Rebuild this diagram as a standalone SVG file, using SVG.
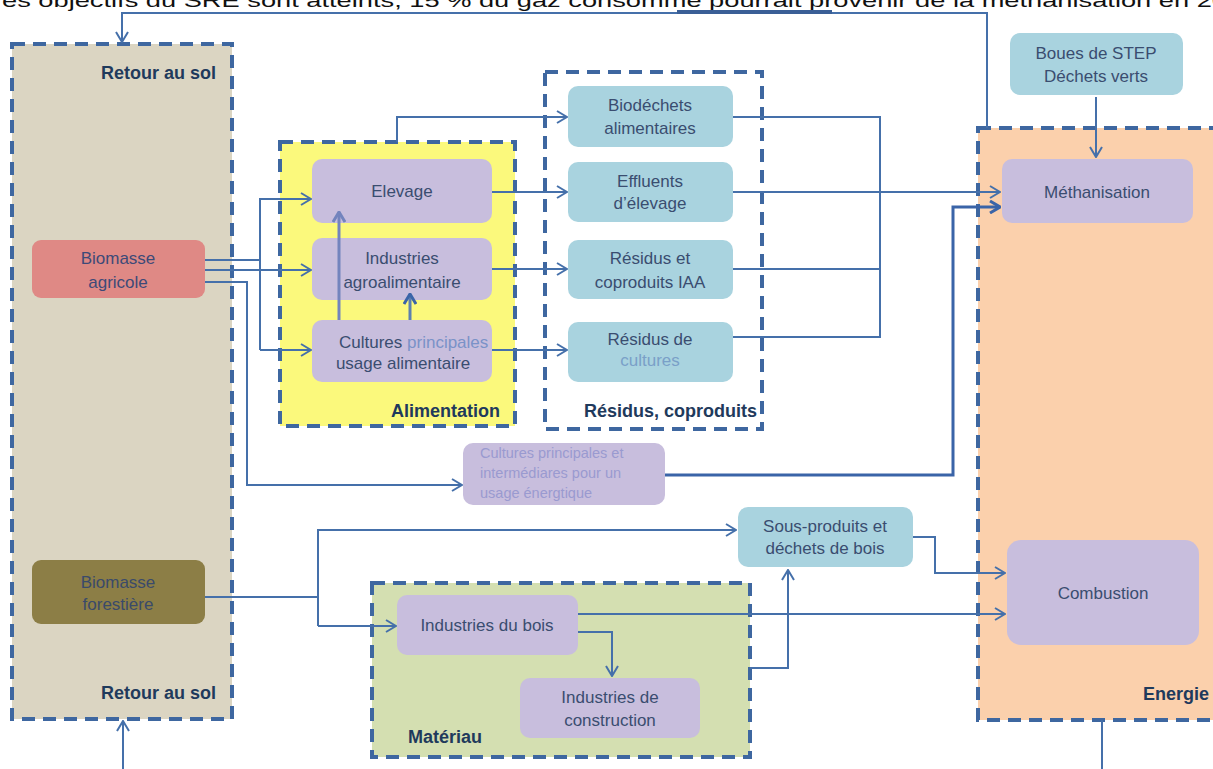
<svg xmlns="http://www.w3.org/2000/svg" width="1213" height="769" viewBox="0 0 1213 769">
<defs>
<marker id="arr" viewBox="0 0 12 14" refX="11" refY="7" markerWidth="12" markerHeight="14" markerUnits="userSpaceOnUse" orient="auto">
<path d="M1,1 L11,7 L1,13" fill="none" stroke="#4570aa" stroke-width="2"/>
</marker>
<marker id="arrT" viewBox="0 0 12 14" refX="11" refY="7" markerWidth="12" markerHeight="14" markerUnits="userSpaceOnUse" orient="auto">
<path d="M1,1 L11,7 L1,13" fill="none" stroke="#3a64a8" stroke-width="3"/>
</marker>
<marker id="arrP" viewBox="0 0 12 14" refX="11" refY="7" markerWidth="12" markerHeight="14" markerUnits="userSpaceOnUse" orient="auto">
<path d="M1,1 L11,7 L1,13" fill="none" stroke="#7384bd" stroke-width="3"/>
</marker>
</defs>
<style>
.cont{stroke:#3e67a0;stroke-width:4;stroke-dasharray:13 8}
.c{fill:none;stroke:#4570aa;stroke-width:2}
.lav{fill:#c8bedd}
.blu{fill:#a9d3df}
.t{font-family:"Liberation Sans",Arial,sans-serif;font-size:17px;fill:#3a4d70;text-anchor:middle}
.lb{font-family:"Liberation Sans",Arial,sans-serif;font-size:18px;font-weight:bold;fill:#1f3a5c}
</style>
<rect width="1213" height="769" fill="#ffffff"/>
<text x="2" y="7" font-family="Liberation Sans, Arial, sans-serif" font-size="19" fill="#111" textLength="1225" lengthAdjust="spacingAndGlyphs">es objectifs du SRE sont atteints, 15 % du gaz consommé pourrait provenir de la méthanisation en 20</text>

<g id="retour-au-sol">
<rect class="cont" x="12" y="44" width="220" height="675" fill="#dbd5c2"/>
<text class="lb" x="216" y="79" text-anchor="end">Retour au sol</text>
<text class="lb" x="216" y="699" text-anchor="end">Retour au sol</text>
</g>
<g id="alimentation">
<rect class="cont" x="280" y="142" width="235" height="284" fill="#fbf97c"/>
<text class="lb" x="500" y="417" text-anchor="end">Alimentation</text>
</g>
<g id="residus-coproduits">
<rect class="cont" x="545" y="72" width="217" height="357" fill="#ffffff"/>
<text class="lb" x="757" y="417" text-anchor="end">Résidus, coproduits</text>
</g>
<g id="energie">
<rect class="cont" x="978" y="128" width="240" height="592" fill="#fbd0ac"/>
<text class="lb" x="1209" y="700" text-anchor="end">Energie</text>
</g>
<g id="materiau">
<rect class="cont" x="372" y="583" width="378" height="174" fill="#d4dfb1"/>
<text class="lb" x="408" y="743">Matériau</text>
</g>

<g id="biomasse-agricole">
<rect x="32" y="240" width="173" height="58" rx="9" fill="#df8985"/>
<text class="t" x="118" y="264" style="fill:#3d4a78">Biomasse</text>
<text class="t" x="118" y="288" style="fill:#3d4a78">agricole</text>
</g>
<g id="biomasse-forestiere">
<rect x="32" y="560" width="173" height="64" rx="9" fill="#8c7e46"/>
<text class="t" x="118" y="588" style="fill:#3a4a6a">Biomasse</text>
<text class="t" x="118" y="610" style="fill:#3a4a6a">forestière</text>
</g>
<g id="elevage">
<rect class="lav" x="312" y="159" width="180" height="64" rx="10"/>
<text class="t" x="402" y="197">Elevage</text>
</g>
<g id="industries-agro">
<rect class="lav" x="312" y="238" width="180" height="62" rx="10"/>
<text class="t" x="402" y="264">Industries</text>
<text class="t" x="402" y="288">agroalimentaire</text>
</g>
<g id="cultures-alimentaires">
<rect class="lav" x="312" y="320" width="180" height="62" rx="10"/>
<text class="t" x="339" y="348" style="text-anchor:start">Cultures <tspan style="fill:#7a92c8">principales</tspan></text>
<text class="t" x="403" y="369">usage alimentaire</text>
</g>
<g id="biodechets">
<rect class="blu" x="568" y="86" width="165" height="61" rx="10"/>
<text class="t" x="650" y="111">Biodéchets</text>
<text class="t" x="650" y="134">alimentaires</text>
</g>
<g id="effluents">
<rect class="blu" x="568" y="162" width="165" height="60" rx="10"/>
<text class="t" x="650" y="187">Effluents</text>
<text class="t" x="650" y="209">d’élevage</text>
</g>
<g id="residus-iaa">
<rect class="blu" x="568" y="240" width="165" height="59" rx="10"/>
<text class="t" x="650" y="264">Résidus et</text>
<text class="t" x="650" y="288">coproduits IAA</text>
</g>
<g id="residus-cultures">
<rect class="blu" x="568" y="322" width="165" height="60" rx="10"/>
<text class="t" x="650" y="345">Résidus de</text>
<text class="t" x="650" y="366" style="fill:#7aa0c8">cultures</text>
</g>
<g id="cultures-energetiques">
<rect class="lav" x="463" y="443" width="202" height="62" rx="10"/>
<g font-family="Liberation Sans, Arial, sans-serif" font-size="14.5" fill="#9a9ad0">
<text x="480" y="458">Cultures principales et</text>
<text x="480" y="478">intermédiares pour un</text>
<text x="480" y="498">usage énergtique</text>
</g>
</g>
<g id="boues-step">
<rect class="blu" x="1010" y="33" width="173" height="62" rx="10"/>
<text class="t" x="1096" y="59">Boues de STEP</text>
<text class="t" x="1096" y="82">Déchets verts</text>
</g>
<g id="methanisation">
<rect class="lav" x="1002" y="159" width="191" height="64" rx="10"/>
<text class="t" x="1097" y="198">Méthanisation</text>
</g>
<g id="sous-produits">
<rect class="blu" x="738" y="507" width="175" height="60" rx="10"/>
<text class="t" x="825" y="532">Sous-produits et</text>
<text class="t" x="825" y="554">déchets de bois</text>
</g>
<g id="combustion">
<rect class="lav" x="1007" y="540" width="192" height="105" rx="14"/>
<text class="t" x="1103" y="599">Combustion</text>
</g>
<g id="industries-bois">
<rect class="lav" x="397" y="595" width="181" height="60" rx="10"/>
<text class="t" x="487" y="631">Industries du bois</text>
</g>
<g id="industries-construction">
<rect class="lav" x="520" y="678" width="180" height="60" rx="10"/>
<text class="t" x="610" y="703">Industries de</text>
<text class="t" x="610" y="726">construction</text>
</g>

<g id="connectors">
<path class="c" d="M987,128 V13 H122 V42" marker-end="url(#arr)"/>
<path d="M677,12 H832" stroke="#3a5f96" stroke-width="4" fill="none"/>
<path class="c" d="M1102,720 V769"/>
<path class="c" d="M123,769 V721" marker-end="url(#arr)"/>
<path class="c" d="M205,260 H260"/>
<path class="c" d="M205,270 H311" marker-end="url(#arr)"/>
<path class="c" d="M260,350 V199 H311" marker-end="url(#arr)"/>
<path class="c" d="M260,350 H311" marker-end="url(#arr)"/>
<path class="c" d="M205,282 H247 V485 H462" marker-end="url(#arr)"/>
<path d="M339,320 V212" fill="none" stroke="#7384bd" stroke-width="3" marker-end="url(#arrP)"/>
<path d="M410,320 V294" fill="none" stroke="#5b7fb0" stroke-width="3" marker-end="url(#arrT)"/>
<path class="c" d="M397,142 V117 H567" marker-end="url(#arr)"/>
<path class="c" d="M492,192 H567" marker-end="url(#arr)"/>
<path class="c" d="M492,269 H567" marker-end="url(#arr)"/>
<path class="c" d="M492,350 H567" marker-end="url(#arr)"/>
<path class="c" d="M733,117 H880 V337 H733"/>
<path class="c" d="M733,269 H880"/>
<path class="c" d="M733,192 H1000" marker-end="url(#arr)"/>
<path d="M665,475 H953 V207 H1000" fill="none" stroke="#3a64a8" stroke-width="3" marker-end="url(#arrT)"/>
<path class="c" d="M1096,97 V157" marker-end="url(#arr)"/>
<path class="c" d="M205,597 H318"/>
<path class="c" d="M318,626 V530 H736" marker-end="url(#arr)"/>
<path class="c" d="M318,626 H396" marker-end="url(#arr)"/>
<path class="c" d="M578,614 H1005" marker-end="url(#arr)"/>
<path class="c" d="M578,632 H612 V676" marker-end="url(#arr)"/>
<path class="c" d="M750,668 H788 V570" marker-end="url(#arr)"/>
<path class="c" d="M913,537 H935 V573 H1005" marker-end="url(#arr)"/>
</g>
</svg>
